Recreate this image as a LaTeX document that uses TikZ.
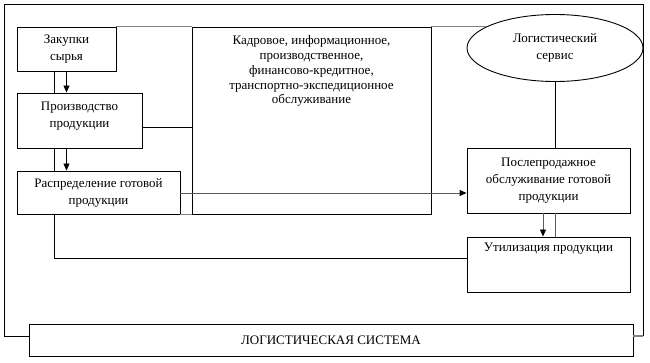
\documentclass[tikz,border=0pt]{standalone}
\usepackage{fontspec}
\setmainfont{Liberation Serif}
\usetikzlibrary{arrows.meta,shapes.geometric}
\definecolor{lgray}{RGB}{128,128,128}
\definecolor{dgray}{RGB}{90,90,90}
\tikzset{
  box/.style={draw=black, line width=0.9pt, inner sep=0pt, align=center, font=\fontsize{13}{17}\selectfont},
  txt/.style={inner sep=0pt, align=center, font=\fontsize{13}{17}\selectfont},
  conn/.style={draw=black, line width=0.9pt},
  gconn/.style={draw=lgray, line width=1.2pt},
  arr/.style={line width=0.9pt, -{Triangle[length=7pt,width=6pt,color=black,fill=black]}},
}
\begin{document}
\begin{tikzpicture}[x=1pt,y=-1pt]
\useasboundingbox (0,0) rectangle (650,363);
% frame corners
\coordinate (ftl) at (4.5,4.5);
\coordinate (fbr) at (643,336);
% boxes
\node[box, minimum width=99pt, minimum height=44pt] (zak) at (66.5,49) {Закупки\\сырья};
\node[box, minimum width=125pt, minimum height=55pt] (pro) at (79.5,120.5) {};
\node[txt] (protxt) at ([yshift=4pt]pro.center) {Производство\\продукции};
\node[box, minimum width=163pt, minimum height=43pt] (ras) at (98.5,192.5) {Распределение готовой\\продукции};
\node[box, minimum width=239pt, minimum height=187pt] (cen) at (311.5,120.5) {};
\node[txt, anchor=north, font=\fontsize{13}{14.8}\selectfont] (centxt) at ([yshift=-9pt]cen.north) {Кадровое, информационное,\\производственное,\\финансово-кредитное,\\транспортно-экспедиционное\\обслуживание};
\node[box, ellipse, minimum width=176pt, minimum height=67pt] (ell) at (555,48) {Логистический\\сервис};
\node[box, minimum width=163pt, minimum height=65pt] (post) at (548.5,180.5) {Послепродажное\\обслуживание готовой\\продукции};
\node[box, minimum width=163pt, minimum height=55pt] (util) at (548.5,264.5) {};
\node[txt, anchor=north] (utiltxt) at ([yshift=-6pt]util.north) {Утилизация продукции};
\node[box, minimum width=604pt, minimum height=32pt] (ls) at (331,340) {ЛОГИСТИЧЕСКАЯ СИСТЕМА};
% outer frame
\draw[conn] (ls.west |- fbr) -- (ftl |- fbr) -- (ftl) -- (fbr |- ftl) -- (fbr);
\draw[gconn] (fbr) -- (ls.east |- fbr);
% top gray line
\draw[gconn] (zak.north east) -- (cen.north west);
\draw[gconn] (cen.north east) -- (cen.north east -| ell.163);
% vertical arrows left
\draw[arr] (zak.south) -- (zak.south |- pro.north);
\draw[conn] ([xshift=-12.5pt]zak.south) -- ([xshift=-12.5pt]zak.south |- pro.north);
\draw[arr] (zak.south |- pro.south) -- (zak.south |- ras.north);
\draw[conn] ([xshift=-12.5pt]zak.south |- pro.south) -- ([xshift=-12.5pt]zak.south |- ras.north);
% production to central
\draw[conn] ([yshift=-6.5pt]pro.east) -- ([yshift=-6.5pt]pro.east -| cen.west);
% distribution to after-sale
\draw[gconn, arr, draw=dgray] ([yshift=-0.5pt]ras.east) -- ([yshift=-0.5pt]ras.east -| post.west);
\draw[gconn] (ras.south east) -- (cen.south west);
% distribution down to utilisation
\draw[conn] ([xshift=-12.5pt]zak.south |- ras.south) |- ([yshift=6.5pt]util.west);
% service to after-sale
\draw[conn] (ell.south) -- (ell.south |- post.north);
\draw[arr, draw=dgray] ([xshift=-5.5pt]post.south) -- ([xshift=-5.5pt]post.south |- util.north);
\draw[conn, draw=dgray] (ell.south |- post.south) -- (ell.south |- util.north);
\end{tikzpicture}
\end{document}
